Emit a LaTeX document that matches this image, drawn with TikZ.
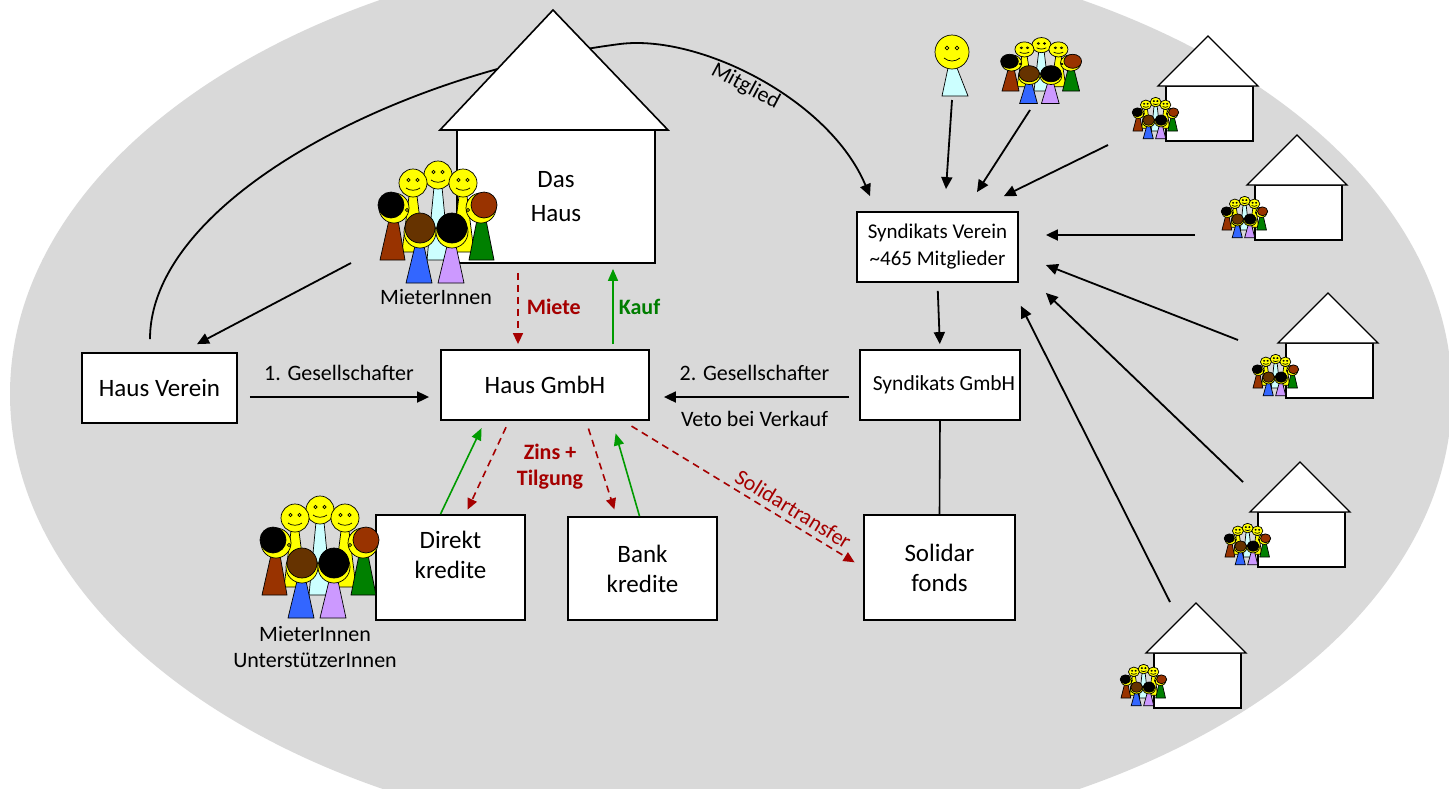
\documentclass[tikz,border=0pt]{standalone}
\usepackage{fontspec}
\setmainfont{Carlito}
\usepackage{tikz}
\usetikzlibrary{arrows.meta}
\definecolor{bggrey}{RGB}{217,217,217}
\definecolor{moneyred}{RGB}{165,0,0}
\definecolor{buygreen}{RGB}{0,155,0}
\definecolor{buytext}{RGB}{0,125,0}
\definecolor{faceyellow}{RGB}{255,255,0}
\definecolor{shirtcyan}{RGB}{204,255,255}
\definecolor{shirtbrown}{RGB}{153,51,0}
\definecolor{shirtgreen}{RGB}{0,128,0}
\definecolor{shirtblue}{RGB}{51,102,255}
\definecolor{shirtlilac}{RGB}{204,153,255}
\definecolor{hairbrown}{RGB}{102,51,0}

\begin{document}
\begin{tikzpicture}[x=1pt, y=-1pt,
  box/.style={draw, line width=1.8pt, fill=white, align=center, inner sep=2pt, font=\fontsize{25}{30}\selectfont},
  tag/.style={font=\fontsize{22}{26}\selectfont, inner sep=2pt},
  boldtag/.style={font=\fontsize{22}{26}\selectfont\bfseries, inner sep=2pt},
  arrow/.style={-{Triangle[length=12pt,width=11pt]}, line width=1.8pt},
  redflow/.style={-{Triangle[length=11pt,width=10pt]}, line width=1.6pt, moneyred, dash pattern=on 7pt off 5pt},
  greenflow/.style={-{Triangle[length=12pt,width=10pt]}, line width=1.6pt, buygreen},
  house/.style={draw, fill=white, line width=1.3pt},
  crowd/.pic={
    \begin{scope}[line width=0.7pt]
    % back row
    \draw[fill=shirtcyan] (54,27) -- (62,27) -- (69,100) -- (47,100) -- cycle;
    \draw[fill=faceyellow] (29,36) -- (37,36) -- (44,92) -- (22,92) -- cycle;
    \draw[fill=faceyellow] (79,36) -- (87,36) -- (94,92) -- (72,92) -- cycle;
    \foreach \fx/\fy in {58/15,33/23,83/23}{
      \draw[fill=faceyellow] (\fx,\fy) circle[radius=14];
      \draw (\fx-4.5,\fy-3) circle[radius=1.6] (\fx+4.5,\fy-3) circle[radius=1.6];
      \draw (\fx-7,\fy+5) .. controls (\fx-3,\fy+8) and (\fx+3,\fy+8) .. (\fx+7,\fy+5);
    }
    % side persons
    \draw[fill=shirtbrown] (9,60) -- (18,60) -- (25,100) -- (0,100) -- cycle;
    \draw[fill=faceyellow] (14,48) circle[radius=15];
    \draw[fill=black] (11,45) circle[radius=13];
    \draw (27,50) circle[radius=1.6];
    \draw[fill=shirtgreen] (97,60) -- (106,60) -- (114,100) -- (89,100) -- cycle;
    \draw[fill=faceyellow] (101,48) circle[radius=15];
    \draw[fill=shirtbrown] (104,45) circle[radius=13];
    \draw (88,50) circle[radius=1.6];
    % front persons
    \draw[fill=shirtblue] (35,86) -- (44,86) -- (52,123) -- (26,123) -- cycle;
    \draw[fill=faceyellow] (40,72) circle[radius=16];
    \draw[fill=hairbrown] (40,68) circle[radius=15];
    \draw[fill=shirtlilac] (67,86) -- (76,86) -- (84,123) -- (58,123) -- cycle;
    \draw[fill=faceyellow] (72,72) circle[radius=16];
    \draw[fill=black] (72,68) circle[radius=15];
    \end{scope}
  }
]
\useasboundingbox (0,0) rectangle (1449,788);
\begin{scope}
  \clip (0,0) rectangle (1449,788);
  \fill[bggrey] (731,394) ellipse [x radius=721, y radius=451];
\end{scope}

% boxes
\node[box, minimum width=198pt, minimum height=133pt] (dashaus) at (556,196.5) {Das\\[4pt]Haus};
\node[box, minimum width=155pt, minimum height=70pt] (hausverein) at (159.5,388) {Haus Verein};
\node[box, minimum width=208pt, minimum height=70pt] (hausgmbh) at (545,385) {Haus GmbH};
\node[box, minimum width=161pt, minimum height=70pt, font=\fontsize{21}{27}\selectfont] (synverein) at (937.5,247) {Syndikats Verein\\\textasciitilde465 Mitglieder};
\node[box, minimum width=160pt, minimum height=70pt, font=\fontsize{21.5}{24}\selectfont] (syngmbh) at (940,385) {\hspace*{8pt}Syndikats GmbH};
\node[box, minimum width=149pt, minimum height=105pt] (direkt) at (450.5,567.5) {Direkt\\kredite\\[-14pt]\strut};
\node[box, minimum width=149pt, minimum height=103pt] (bank) at (642.5,568.5) {Bank\\kredite};
\node[box, minimum width=151pt, minimum height=105pt] (solidar) at (939.5,567.5) {Solidar\\fonds};

% Mitglied curve, behind the roof
\draw[arrow] ([xshift=-9.5pt,yshift=13pt]hausverein.north) .. controls (150,200) and (400,72) .. (620,44)
  .. controls (700,34) and (830,100) .. ([xshift=-67.5pt,yshift=15pt]synverein.north)
  node[pos=0.47, sloped, below, tag] {Mitglied};
\draw[house, line width=1.6pt] (440,130) -- (553,10) -- (668,130) -- cycle;

% people
\pic at (380,160) {crowd};
\pic at (262,495) {crowd};
\pic[xscale=0.68, yscale=0.54] at (1002,37) {crowd};
\draw[line width=0.7pt, fill=shirtcyan] (948,68) -- (957,68) -- (968,96) -- (942,96) -- cycle;
\draw[line width=0.7pt, fill=faceyellow] (952,52) circle[radius=17];
\draw[line width=0.7pt] (947,48) circle[radius=1.8] (957,48) circle[radius=1.8]
  (944,58) .. controls (949,62) and (955,62) .. (960,58);
\node[tag] (tenants) at (436,297) {MieterInnen};
\node[tag, align=center] (lenders) at (315,647) {MieterInnen\\UnterstützerInnen};

% other houses
\foreach \hx/\hy in {1208/36,1297/135,1328/293,1300/462,1196/603}{
  \draw[house] (\hx-42,\hy+50) rectangle (\hx+45,\hy+105);
  \draw[house] (\hx-50,\hy+50) -- (\hx,\hy) -- (\hx+50,\hy+50) -- cycle;
  \pic[xscale=0.39, yscale=0.34] at (\hx-75,\hy+61) {crowd};
}
\coordinate (tenantsout) at (351,263);
\coordinate (loner) at (952,100);
\coordinate (group) at (1030,110);
\coordinate (h1out) at (1108,145);
\coordinate (h2out) at (1195,235);
\coordinate (h3out) at (1238,340);
\coordinate (h4out) at (1243,482);
\coordinate (h5out) at (1170,602);

% Arrows
\draw[arrow] (tenantsout) -- ([xshift=37.5pt,yshift=8pt]hausverein.north);
\draw[arrow, shorten <=12pt, shorten >=11pt] ([yshift=-9pt]hausverein.east) -- ([yshift=-12pt]hausgmbh.west)
  node[midway, above=13pt, tag] {1. Gesellschafter};
\draw[arrow, shorten <=10pt, shorten >=14pt] ([yshift=-12pt]syngmbh.west) -- ([yshift=-12pt]hausgmbh.east)
  node[midway, above=13pt, tag] {2. Gesellschafter}
  node[midway, below=11pt, tag] {Veto bei Verkauf};
\draw[redflow, shorten <=9pt, shorten >=5pt] ([xshift=-38pt]dashaus.south) -- ([xshift=-27pt]hausgmbh.north)
  node[midway, right=6pt, boldtag, text=moneyred] {Miete};
\draw[greenflow, shorten <=5pt, shorten >=5pt] ([xshift=68pt]hausgmbh.north) -- ([xshift=57pt]dashaus.south)
  node[midway, right=3pt, boldtag, text=buytext] {Kauf};
\draw[greenflow, shorten >=8pt] ([xshift=-10pt]direkt.north) -- ([xshift=-60pt]hausgmbh.south);
\draw[redflow, shorten <=7pt, shorten >=5pt] ([xshift=-36pt]hausgmbh.south) -- ([xshift=15pt]direkt.north);
\draw[redflow, shorten <=8pt, shorten >=7pt] ([xshift=41pt]hausgmbh.south) -- ([xshift=-26pt]bank.north);
\draw[greenflow, shorten >=13pt] ([xshift=-3pt]bank.north) -- ([xshift=67pt]hausgmbh.south);
\node[boldtag, text=moneyred, align=center] (zins) at (550,467) {Zins +\\Tilgung};
\draw[redflow, shorten <=10pt, shorten >=10pt] ([xshift=78pt]hausgmbh.south) -- (solidar.west)
  node[pos=0.68, sloped, above=3pt, tag, text=moneyred] {Solidartransfer};
\draw[arrow, shorten <=8pt, shorten >=5pt] (synverein.south) -- (syngmbh.north);
\draw[line width=1.6pt] (syngmbh.south) -- (solidar.north);
\draw[arrow] (loner) -- ([xshift=8.5pt,yshift=22pt]synverein.north);
\draw[arrow] (group) -- ([xshift=39.5pt,yshift=19pt]synverein.north);
\draw[arrow] (h1out) -- ([xshift=-15pt,yshift=15pt]synverein.north east);
\draw[arrow] (h2out) -- ([xshift=27pt,yshift=12pt]synverein.east);
\draw[arrow] (h3out) -- ([xshift=27pt,yshift=-18pt]synverein.east);
\draw[arrow] (h4out) -- ([xshift=27pt,yshift=-10pt]synverein.south east);
\draw[arrow] (h5out) -- ([xshift=2pt,yshift=-23pt]synverein.south east);
\end{tikzpicture}
\end{document}
